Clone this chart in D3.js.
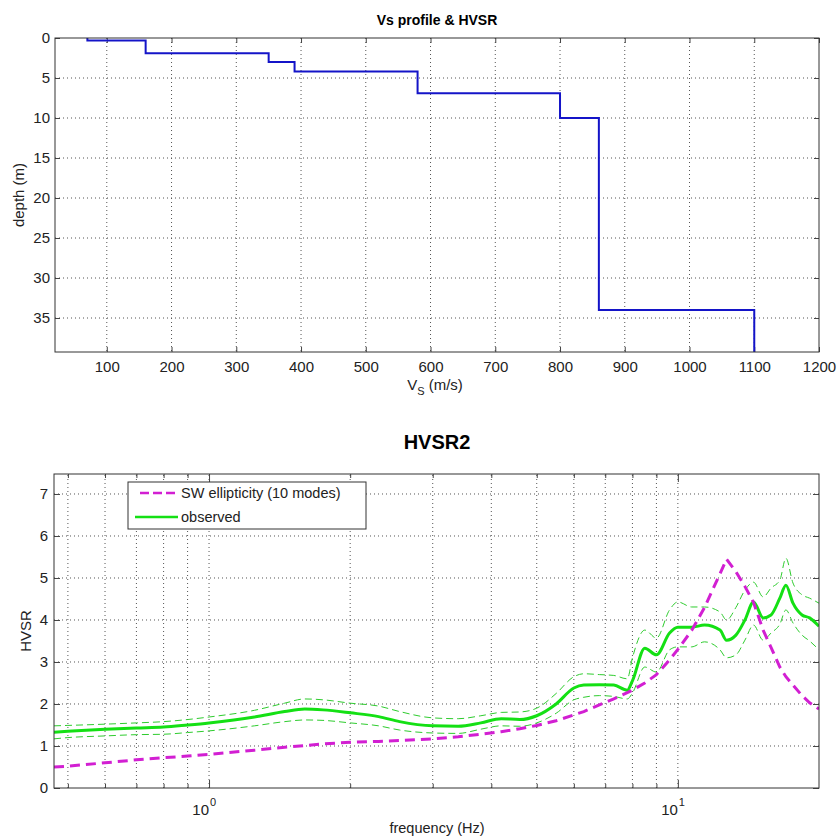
<!DOCTYPE html>
<html>
<head>
<meta charset="utf-8">
<script src="https://cdn.jsdelivr.net/npm/d3@7"></script>
<style>
  body { margin: 0; background: #fff; }
  text { font-family: "Liberation Sans", Arial, sans-serif; }
</style>
</head>
<body>
<svg id="chart" width="838" height="839"></svg>
<script>
// ---- Vs profile data ----
let vsLayers = [70, 160, 350, 390, 580, 800, 860, 1100];
let layerTops = [0, 0.3, 1.9, 3.0, 4.2, 6.9, 10.0, 34.0];
let depthMax = 39.25;
let vsTicks = [100, 200, 300, 400, 500, 600, 700, 800, 900, 1000, 1100, 1200];
let depthTicks = [0, 5, 10, 15, 20, 25, 30, 35];

// ---- HVSR data ----
let freq = [0.467, 0.5, 0.6, 0.7, 0.8, 0.9, 1.0, 1.25, 1.45, 1.6, 1.75, 2.0, 2.3, 2.55, 3.0, 3.4, 3.8, 4.2, 4.6, 5.0,
            5.5, 6.0, 6.3, 6.8, 7.3, 7.8, 8.0, 8.5, 9.0, 9.6, 10.0, 10.7, 11.4, 12.3, 12.7, 13.3, 13.9, 14.5, 15.2,
            15.8, 16.5, 17.0, 17.6, 18.4, 19.1, 20.0];
let hvObs = [1.33, 1.35, 1.40, 1.43, 1.45, 1.50, 1.55, 1.69, 1.82, 1.88, 1.86, 1.79, 1.70, 1.58, 1.48, 1.47, 1.55, 1.65, 1.63, 1.72,
             2.0, 2.38, 2.45, 2.46, 2.45, 2.33, 2.55, 3.33, 3.17, 3.69, 3.83, 3.83, 3.88, 3.76, 3.52, 3.64, 4.0, 4.43, 4.05,
             4.12, 4.52, 4.83, 4.4, 4.12, 4.05, 3.85];
let hvUp = [1.48, 1.49, 1.52, 1.55, 1.58, 1.63, 1.69, 1.85, 2.02, 2.12, 2.10, 2.02, 1.95, 1.82, 1.67, 1.65, 1.72, 1.80, 1.81, 1.90,
            2.25, 2.65, 2.72, 2.70, 2.68, 2.60, 3.10, 3.76, 3.57, 4.24, 4.43, 4.31, 4.31, 4.19, 4.0, 4.3, 4.71, 4.9, 4.55,
            4.76, 4.95, 5.47, 4.88, 4.6, 4.52, 4.4];
let hvLo = [1.17, 1.20, 1.24, 1.27, 1.28, 1.32, 1.36, 1.48, 1.58, 1.62, 1.61, 1.55, 1.48, 1.38, 1.31, 1.30, 1.40, 1.48, 1.47, 1.55,
            1.78, 2.10, 2.16, 2.20, 2.18, 2.12, 2.26, 2.88, 2.76, 3.29, 3.36, 3.36, 3.48, 3.29, 3.10, 3.17, 3.52, 3.88, 3.52,
            3.69, 3.90, 4.24, 3.93, 3.64, 3.50, 3.29];
let ellip = [0.50, 0.52, 0.60, 0.67, 0.72, 0.76, 0.80, 0.90, 0.97, 1.01, 1.05, 1.09, 1.11, 1.13, 1.17, 1.22, 1.28, 1.34, 1.41, 1.49,
             1.60, 1.74, 1.82, 1.98, 2.12, 2.27, 2.33, 2.50, 2.70, 3.05, 3.30, 3.75, 4.30, 5.10, 5.45, 5.15, 4.80, 4.42, 3.76,
             3.35, 2.88, 2.65, 2.45, 2.20, 2.03, 1.88];
let hvTicks = [0, 1, 2, 3, 4, 5, 6, 7];
let freqMajor = [1, 10];
let freqMinor = [0.5, 0.6, 0.7, 0.8, 0.9, 2, 3, 4, 5, 6, 7, 8, 9];

let svg = d3.select("#chart");
let gridColor = "#555", tickColor = "#444", textColor = "#222";

// ================= top: Vs profile =================
let x1 = d3.scaleLinear().domain([20, 1200]).range([55, 819]);
let y1 = d3.scaleLinear().domain([0, depthMax]).range([38, 352]);

let profG = svg.append("g");

// grid
profG.selectAll(".vg").data(vsTicks.filter(d => d < 1200)).enter().append("line")
    .attr("x1", d => x1(d)).attr("x2", d => x1(d)).attr("y1", y1(0)).attr("y2", y1(depthMax))
    .attr("stroke", gridColor).attr("stroke-dasharray", "1,3");
profG.selectAll(".hg").data(depthTicks.filter(d => d > 0)).enter().append("line")
    .attr("x1", x1(20)).attr("x2", x1(1200)).attr("y1", d => y1(d)).attr("y2", d => y1(d))
    .attr("stroke", gridColor).attr("stroke-dasharray", "1,3");

// axes with inward ticks
function styleAxis(g) {
    g.select(".domain").remove();
    g.selectAll(".tick line").attr("stroke", tickColor);
    g.selectAll(".tick text").attr("fill", textColor).style("font-size", "15px");
}
profG.append("g").attr("transform", "translate(0," + y1(depthMax) + ")")
    .call(d3.axisBottom(x1).tickValues(vsTicks).tickFormat(d3.format("d")).tickSize(-5).tickPadding(9))
    .call(styleAxis);
profG.append("g").attr("transform", "translate(0," + y1(0) + ")")
    .call(d3.axisTop(x1).tickValues(vsTicks).tickSize(-5).tickFormat("")).call(styleAxis);
profG.append("g").attr("transform", "translate(" + x1(20) + ",0)")
    .call(d3.axisLeft(y1).tickValues(depthTicks).tickSize(-5).tickPadding(5)).call(styleAxis);
profG.append("g").attr("transform", "translate(" + x1(1200) + ",0)")
    .call(d3.axisRight(y1).tickValues(depthTicks).tickSize(-5).tickFormat("")).call(styleAxis);

// step profile
let stepPts = [];
vsLayers.forEach((v, i) => {
    let bottom = i + 1 < layerTops.length ? layerTops[i + 1] : depthMax;
    stepPts.push([v, layerTops[i]]);
    stepPts.push([v, bottom]);
});
profG.append("path")
    .attr("d", d3.line().x(d => x1(d[0])).y(d => y1(d[1]))(stepPts))
    .attr("fill", "none").attr("stroke", "#1414c8").attr("stroke-width", 2);

profG.append("rect").attr("x", 55).attr("y", 38).attr("width", 764).attr("height", 314)
    .attr("fill", "none").attr("stroke", "#333");

profG.append("text").attr("x", 437).attr("y", 25).attr("text-anchor", "middle")
    .style("font-size", "14px").style("font-weight", "bold").text("Vs profile & HVSR");
profG.append("text").attr("transform", "translate(24,195) rotate(-90)").attr("text-anchor", "middle")
    .attr("fill", textColor).style("font-size", "15px").text("depth (m)");
let vsLabel = profG.append("text").attr("x", 435).attr("y", 390).attr("text-anchor", "middle")
    .attr("fill", textColor).style("font-size", "15px");
vsLabel.append("tspan").text("V");
vsLabel.append("tspan").attr("dy", 5).style("font-size", "11px").text("S");
vsLabel.append("tspan").attr("dy", -5).text(" (m/s)");

// ================= bottom: HVSR =================
let x2 = d3.scaleLog().domain([0.467, 20]).range([54, 819]);
let y2 = d3.scaleLinear().domain([0, 7.476]).range([788, 474]);

let hvG = svg.append("g");

hvG.selectAll(".vg").data(freqMinor.concat(freqMajor)).enter().append("line")
    .attr("x1", d => x2(d)).attr("x2", d => x2(d)).attr("y1", y2(0)).attr("y2", y2(7.476))
    .attr("stroke", gridColor).attr("stroke-dasharray", "1,3");
hvG.selectAll(".hg").data(hvTicks.filter(d => d > 0)).enter().append("line")
    .attr("x1", x2(0.467)).attr("x2", x2(20)).attr("y1", d => y2(d)).attr("y2", d => y2(d))
    .attr("stroke", gridColor).attr("stroke-dasharray", "1,3");

hvG.append("g").attr("transform", "translate(0," + y2(0) + ")")
    .call(d3.axisBottom(x2).tickValues(freqMajor).tickSize(-8).tickFormat("")).call(styleAxis);
hvG.append("g").attr("transform", "translate(0," + y2(0) + ")")
    .call(d3.axisBottom(x2).tickValues(freqMinor).tickSize(-4).tickFormat("")).call(styleAxis);
hvG.append("g").attr("transform", "translate(0," + y2(7.476) + ")")
    .call(d3.axisTop(x2).tickValues(freqMajor).tickSize(-8).tickFormat("")).call(styleAxis);
hvG.append("g").attr("transform", "translate(0," + y2(7.476) + ")")
    .call(d3.axisTop(x2).tickValues(freqMinor).tickSize(-4).tickFormat("")).call(styleAxis);
hvG.append("g").attr("transform", "translate(" + x2(0.467) + ",0)")
    .call(d3.axisLeft(y2).tickValues(hvTicks).tickSize(-6).tickPadding(6)).call(styleAxis);
hvG.append("g").attr("transform", "translate(" + x2(20) + ",0)")
    .call(d3.axisRight(y2).tickValues(hvTicks).tickSize(-6).tickFormat("")).call(styleAxis);

// 10^n labels
freqMajor.forEach(f => {
    hvG.append("text").attr("x", x2(f)).attr("y", 815).attr("text-anchor", "end")
        .attr("fill", textColor).style("font-size", "15px").text("10");
    hvG.append("text").attr("x", x2(f) + 1).attr("y", 806).attr("fill", textColor)
        .style("font-size", "11px").text(Math.round(Math.log10(f)));
});

let hvLine = d3.line().x((d, i) => x2(freq[i])).y(d => y2(d));
let hvSmooth = d3.line().x((d, i) => x2(freq[i])).y(d => y2(d)).curve(d3.curveMonotoneX);

hvG.append("clipPath").attr("id", "clip2").append("rect")
    .attr("x", 54).attr("y", 474).attr("width", 765).attr("height", 314);
let curves = hvG.append("g").attr("clip-path", "url(#clip2)");

curves.append("path").attr("d", hvSmooth(hvUp)).attr("fill", "none")
    .attr("stroke", "#2ecc2e").attr("stroke-width", 1).attr("stroke-dasharray", "7,4");
curves.append("path").attr("d", hvSmooth(hvLo)).attr("fill", "none")
    .attr("stroke", "#2ecc2e").attr("stroke-width", 1).attr("stroke-dasharray", "7,4");
curves.append("path").attr("d", hvSmooth(hvObs)).attr("fill", "none")
    .attr("stroke", "#14e014").attr("stroke-width", 3);
curves.append("path").attr("d", hvLine(ellip)).attr("fill", "none")
    .attr("stroke", "#d21fd2").attr("stroke-width", 3).attr("stroke-dasharray", "10,6");

hvG.append("rect").attr("x", 54).attr("y", 474).attr("width", 765).attr("height", 314)
    .attr("fill", "none").attr("stroke", "#333");

// legend
let leg = hvG.append("g");
leg.append("rect").attr("x", 128).attr("y", 482).attr("width", 238).attr("height", 47)
    .attr("fill", "#fff").attr("stroke", "#333");
leg.append("line").attr("x1", 140).attr("x2", 178).attr("y1", 493).attr("y2", 493)
    .attr("stroke", "#d21fd2").attr("stroke-width", 2.5).attr("stroke-dasharray", "9,4");
leg.append("text").attr("x", 181).attr("y", 498).attr("fill", textColor)
    .style("font-size", "14.5px").text("SW ellipticity (10 modes)");
leg.append("line").attr("x1", 135).attr("x2", 178).attr("y1", 517).attr("y2", 517)
    .attr("stroke", "#14e014").attr("stroke-width", 2.5);
leg.append("text").attr("x", 181).attr("y", 522).attr("fill", textColor)
    .style("font-size", "14.5px").text("observed");

hvG.append("text").attr("x", 437).attr("y", 449).attr("text-anchor", "middle")
    .style("font-size", "20px").style("font-weight", "bold").text("HVSR2");
hvG.append("text").attr("transform", "translate(31,631) rotate(-90)").attr("text-anchor", "middle")
    .attr("fill", textColor).style("font-size", "15px").text("HVSR");
hvG.append("text").attr("x", 437).attr("y", 833).attr("text-anchor", "middle")
    .attr("fill", textColor).style("font-size", "14.5px").text("frequency (Hz)");
</script>
</body>
</html>
